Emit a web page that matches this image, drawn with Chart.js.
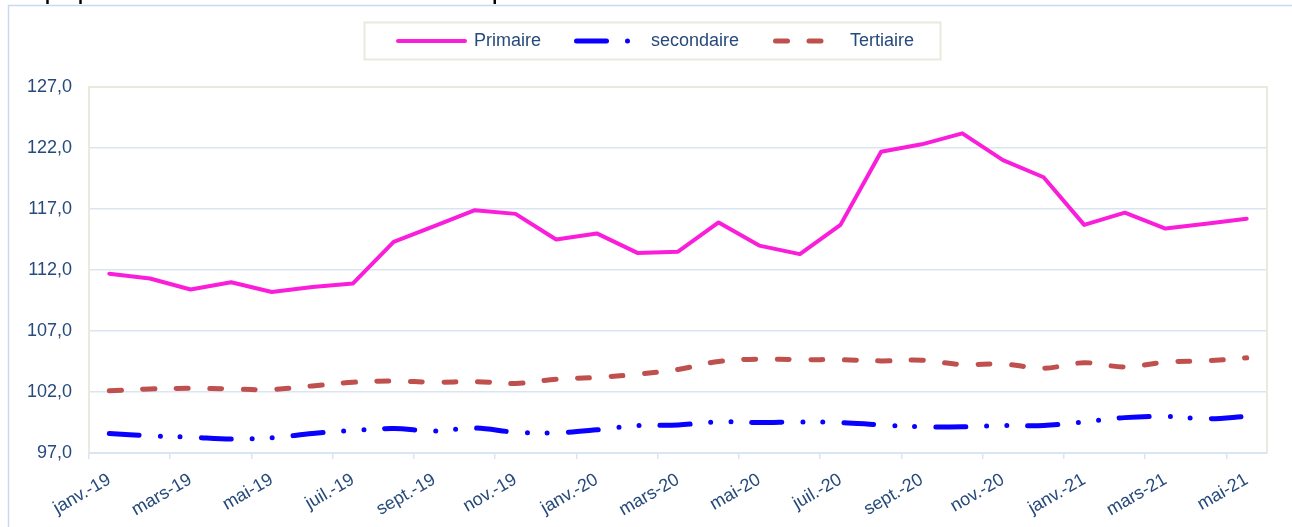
<!DOCTYPE html>
<html>
<head>
<meta charset="utf-8">
<script src="https://cdn.jsdelivr.net/npm/chart.js@4/dist/chart.umd.min.js"></script>
<style>
  html, body { margin: 0; padding: 0; background: #ffffff; overflow: hidden; }
  #wrap { position: absolute; left: 0; top: 0; width: 1292px; height: 527px; }
</style>
</head>
<body>
<div id="wrap"><canvas id="indexChart" width="1292" height="527"></canvas></div>
<script>
const titleText = 'Graphique 2 : Evolution des indices selon le secteur de production';

const categories = [
    'janv.-19', 'févr.-19', 'mars-19', 'avr.-19', 'mai-19', 'juin-19',
    'juil.-19', 'août-19', 'sept.-19', 'oct.-19', 'nov.-19', 'déc.-19',
    'janv.-20', 'févr.-20', 'mars-20', 'avr.-20', 'mai-20', 'juin-20',
    'juil.-20', 'août-20', 'sept.-20', 'oct.-20', 'nov.-20', 'déc.-20',
    'janv.-21', 'févr.-21', 'mars-21', 'avr.-21', 'mai-21'
];

const seriesNames = ['Primaire', 'secondaire', 'Tertiaire'];

const primaire = [
    111.7, 111.3, 110.4, 111.0, 110.2, 110.6, 110.9, 114.3, 115.6, 116.9,
    116.6, 114.5, 115.0, 113.4, 113.5, 115.9, 114.0, 113.3, 115.7, 121.7,
    122.3, 123.2, 121.0, 119.6, 115.7, 116.7, 115.4, 115.8, 116.2
];

const secondaire = [
    98.6, 98.4, 98.3, 98.15, 98.25, 98.6, 98.85, 99.0, 98.8, 99.05,
    98.7, 98.65, 98.9, 99.25, 99.3, 99.55, 99.5, 99.55, 99.5, 99.3,
    99.15, 99.15, 99.25, 99.25, 99.55, 99.9, 100.0, 99.8, 100.0
];

const tertiaire = [
    102.1, 102.25, 102.3, 102.25, 102.2, 102.5, 102.8, 102.9, 102.8, 102.85,
    102.7, 103.05, 103.2, 103.45, 103.85, 104.5, 104.7, 104.65, 104.65, 104.55,
    104.6, 104.25, 104.3, 103.95, 104.4, 104.05, 104.45, 104.55, 104.8
];

const yTicks = { min: 97, max: 127, step: 5 };

const textColor = '#264a7b';
const gridBlue = '#dbe5f1';
const frameBeige = '#ebe8dc';
const baseFont = 'Arial, "Liberation Sans", sans-serif';
const fontSize = 18;

// legend symbol / text positions (Excel-like legend drawn by hand)
const legendBox = { x: 364.5, y: 22.5, w: 576, h: 37 };
const legendItems = [
    { x0: 398, x1: 465, tx: 474 },
    { x0: 576.5, x1: 630, tx: 651 },
    { x0: 775.5, x1: 823, tx: 850 }
];

const framePlugin = {
    id: 'frame',
    beforeDraw(chart) {
        const ctx = chart.ctx;
        ctx.save();
        // outer chart border
        ctx.strokeStyle = '#c9daf0';
        ctx.lineWidth = 1.5;
        ctx.beginPath();
        ctx.moveTo(8.5, 540);
        ctx.lineTo(8.5, 5.5);
        ctx.lineTo(1300, 5.5);
        ctx.stroke();
        // title (cut at the top of the picture)
        ctx.fillStyle = '#000000';
        ctx.font = 'bold 18px ' + baseFont;
        ctx.textBaseline = 'alphabetic';
        ctx.fillText(titleText, 14, 0);
        ctx.restore();
    },
    beforeDatasetsDraw(chart) {
        const ctx = chart.ctx;
        const a = chart.chartArea;
        ctx.save();
        ctx.strokeStyle = frameBeige;
        ctx.lineWidth = 2;
        ctx.beginPath();
        ctx.moveTo(a.left, a.bottom);
        ctx.lineTo(a.left, a.top);
        ctx.lineTo(a.right, a.top);
        ctx.lineTo(a.right, a.bottom);
        ctx.stroke();
        ctx.restore();
    },
    afterDraw(chart) {
        const ctx = chart.ctx;
        ctx.save();
        ctx.strokeStyle = frameBeige;
        ctx.lineWidth = 2;
        ctx.strokeRect(legendBox.x, legendBox.y, legendBox.w, legendBox.h);
        const cy = legendBox.y + legendBox.h / 2;
        chart.data.datasets.forEach((ds, i) => {
            const it = legendItems[i];
            ctx.strokeStyle = ds.borderColor;
            ctx.lineWidth = ds.borderWidth;
            ctx.lineCap = ds.borderCapStyle || 'round';
            ctx.setLineDash(ds.borderDash || []);
            ctx.beginPath();
            ctx.moveTo(it.x0, cy);
            ctx.lineTo(it.x1, cy);
            ctx.stroke();
            ctx.setLineDash([]);
            ctx.fillStyle = textColor;
            ctx.font = fontSize + 'px ' + baseFont;
            ctx.textBaseline = 'middle';
            ctx.fillText(ds.label, it.tx, cy);
        });
        ctx.restore();
    }
};

const chart = new Chart(document.getElementById('indexChart'), {
    type: 'line',
    data: {
        labels: categories,
        datasets: [{
            label: seriesNames[0],
            data: primaire,
            borderColor: '#fa1edb',
            borderWidth: 4,
            borderCapStyle: 'round',
            borderJoinStyle: 'round',
            pointRadius: 0,
            tension: 0
        }, {
            label: seriesNames[1],
            data: secondaire,
            borderColor: '#0a00ff',
            borderWidth: 5,
            borderCapStyle: 'round',
            borderDash: [30, 21, 0, 20, 0, 21],
            pointRadius: 0,
            tension: 0.35
        }, {
            label: seriesNames[2],
            data: tertiaire,
            borderColor: '#c0504d',
            borderWidth: 5,
            borderCapStyle: 'round',
            borderDash: [12, 21.5],
            pointRadius: 0,
            tension: 0.35
        }]
    },
    options: {
        responsive: false,
        animation: false,
        layout: { padding: { left: 13, right: 0, top: 87, bottom: 0 } },
        plugins: {
            legend: { display: false },
            tooltip: { enabled: false }
        },
        scales: {
            x: {
                offset: true,
                afterFit(scale) { scale.height = 74; },
                grid: {
                    offset: true,
                    drawOnChartArea: false,
                    drawTicks: true,
                    tickLength: 6,
                    lineWidth: 1.5,
                    color: ctx => (ctx.index % 2 === 0 ? gridBlue : 'rgba(0,0,0,0)')
                },
                border: { display: true, color: gridBlue, width: 2 },
                ticks: {
                    autoSkip: false,
                    minRotation: 30,
                    maxRotation: 30,
                    padding: 10,
                    color: textColor,
                    font: { size: fontSize, family: baseFont },
                    callback: (v, i) => (i % 2 === 0 ? categories[i] : '')
                }
            },
            y: {
                min: yTicks.min,
                max: yTicks.max,
                afterFit(scale) { scale.width = 76; },
                grid: { color: gridBlue, lineWidth: 1.5, drawTicks: false },
                border: { display: false },
                ticks: {
                    stepSize: yTicks.step,
                    padding: 17,
                    color: textColor,
                    font: { size: fontSize, family: baseFont },
                    callback: v => v.toFixed(1).replace('.', ',')
                }
            },
            yRight: {
                position: 'right',
                afterFit(scale) { scale.width = 25; },
                grid: { display: false },
                border: { display: false },
                ticks: { display: false }
            }
        }
    },
    plugins: [framePlugin]
});
</script>
</body>
</html>
